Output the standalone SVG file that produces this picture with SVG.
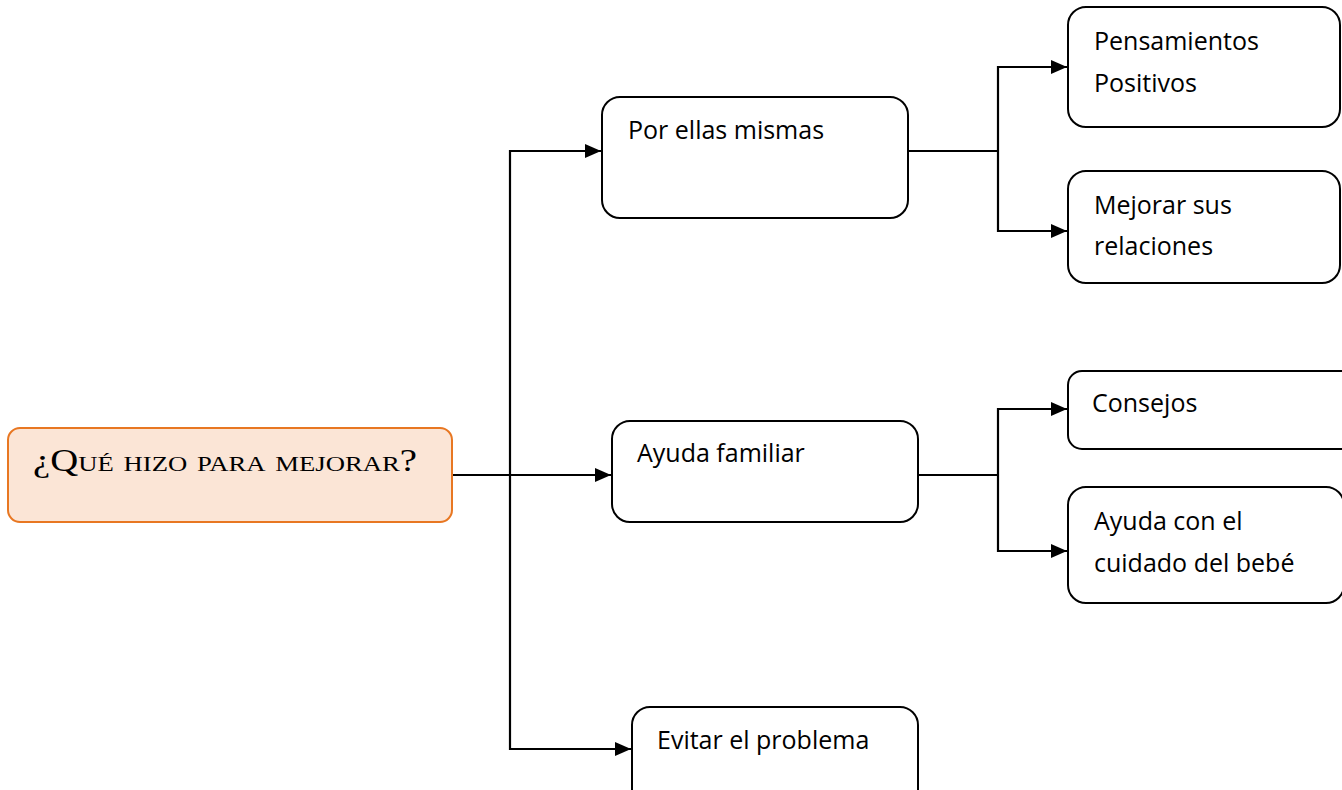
<svg xmlns="http://www.w3.org/2000/svg" width="1342" height="790" viewBox="0 0 1342 790">
<defs>
<marker id="arr" markerWidth="16" markerHeight="14" refX="16" refY="7" orient="auto" markerUnits="userSpaceOnUse">
<path d="M0,0 L16,7 L0,14 Z" fill="#000"/>
</marker>
<style>
.box{fill:#fff;stroke:#000;stroke-width:2}
.t{font-family:"Open Sans","Noto Sans",sans-serif;font-size:25px;fill:#000}
.c{fill:none;stroke:#000;stroke-width:2.2}
</style>
</defs>
<rect width="1342" height="790" fill="#fff"/>
<g id="connectors">
<path class="c" d="M452,475 H611" marker-end="url(#arr)"/>
<path class="c" d="M601,151 H510 V749 H631" marker-end="url(#arr)"/>
<path class="c" d="M510,151 H601" marker-end="url(#arr)"/>
<path class="c" d="M908,151 H998"/>
<path class="c" d="M1067,67 H998 V231 H1067" marker-end="url(#arr)"/>
<path class="c" d="M998,67 H1067" marker-end="url(#arr)"/>
<path class="c" d="M918,475 H998"/>
<path class="c" d="M1067,409 H998 V551 H1067" marker-end="url(#arr)"/>
<path class="c" d="M998,409 H1067" marker-end="url(#arr)"/>
</g>
<g id="root">
<rect x="8" y="428" width="444" height="94" rx="12" fill="#FBE5D6" stroke="#E87722" stroke-width="2"/>
<text x="33" y="471" font-family="Liberation Serif, serif" font-size="32" font-variant="small-caps" textLength="384" lengthAdjust="spacingAndGlyphs" fill="#000">¿Qué hizo para mejorar?</text>
</g>
<g id="n-por">
<rect class="box" x="602" y="97" width="306" height="121" rx="18"/>
<text class="t" x="628" y="139">Por ellas mismas</text>
</g>
<g id="n-ayuda">
<rect class="box" x="612" y="421" width="306" height="101" rx="18"/>
<text class="t" x="637" y="462">Ayuda familiar</text>
</g>
<g id="n-evitar">
<rect class="box" x="632" y="707" width="286" height="100" rx="18"/>
<text class="t" x="657" y="749">Evitar el problema</text>
</g>
<g id="n-pens">
<rect class="box" x="1068" y="7" width="272" height="120" rx="18"/>
<text class="t" x="1094" y="50">Pensamientos</text>
<text class="t" x="1094" y="92">Positivos</text>
</g>
<g id="n-mejorar">
<rect class="box" x="1068" y="171" width="272" height="112" rx="18"/>
<text class="t" x="1094" y="214">Mejorar sus</text>
<text class="t" x="1094" y="255">relaciones</text>
</g>
<g id="n-consejos">
<rect class="box" x="1068" y="371" width="290" height="78" rx="14"/>
<text class="t" x="1092" y="412">Consejos</text>
</g>
<g id="n-cuidado">
<rect class="box" x="1068" y="487" width="276" height="116" rx="18"/>
<text class="t" x="1094" y="530">Ayuda con el</text>
<text class="t" x="1094" y="572">cuidado del bebé</text>
</g>
</svg>
